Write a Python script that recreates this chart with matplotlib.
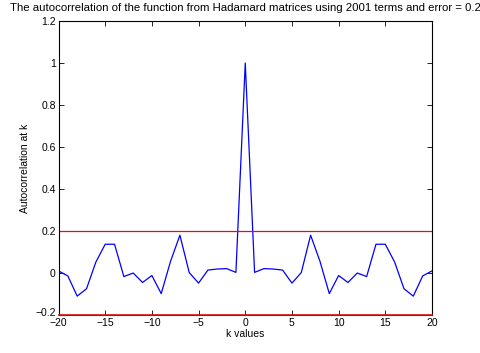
import numpy as np
import matplotlib
matplotlib.use('Agg')
import matplotlib.pyplot as plt
import matplotlib.transforms as mtransforms

plt.rcParams['font.family'] = ['Liberation Sans', 'DejaVu Sans']

# autocorrelation values, k = -20 .. 20
k_values = list(range(-20, 21))
autocorr = [0.01, -0.014, -0.11, -0.075, 0.052, 0.137, 0.137, -0.017, 0.0, -0.045,
            -0.012, -0.098, 0.056, 0.18, 0.002, -0.048, 0.014, 0.019, 0.021, 0.003,
            1.0,
            0.003, 0.021, 0.019, 0.014, -0.048, 0.002, 0.18, 0.056, -0.098, -0.012,
            -0.045, 0.0, -0.017, 0.137, 0.137, 0.052, -0.075, -0.11, -0.014, 0.01]
error = 0.2
x_ticks = [-20, -15, -10, -5, 0, 5, 10, 15, 20]
y_ticks = [-0.2, 0, 0.2, 0.4, 0.6, 0.8, 1, 1.2]

fig = plt.figure(figsize=(4.8, 3.53), dpi=100)
ax = fig.add_axes([0.1219, 0.1076, 0.7781, 0.8329])

ax.plot(k_values, autocorr, color='b', linewidth=0.9)
ax.axhline(error, color='#e01010', linewidth=0.9)
ax.axhline(-error, color='#e01010', linewidth=1.2, clip_on=False, zorder=5)

ax.set_xlim(-20, 20)
ax.set_ylim(-0.2, 1.2)
ax.set_xticks(x_ticks)
ax.set_yticks(y_ticks)
ax.set_xticklabels([str(t).replace('-', '\u2212') for t in x_ticks])
ax.set_yticklabels(['\u22120.2', '0', '0.2', '0.4', '0.6', '0.8', '1', '1.2'])
ax.tick_params(direction='in', length=3.5, width=0.6, labelsize=7.5,
               top=True, right=True, pad=2)
for s in ax.spines.values():
    s.set_linewidth(0.8)

# nudge the bottom y label up a little so it does not sit on the -20 label
lbl = ax.get_yticklabels()[0]
lbl.set_transform(lbl.get_transform() + mtransforms.ScaledTranslation(0, 2.5 / 72, fig.dpi_scale_trans))

ax.set_xlabel('k values', fontsize=7.5, labelpad=1)
ax.set_ylabel('Autocorrelation at k', fontsize=7.5, labelpad=4)
ax.set_title('The autocorrelation of the function from Hadamard matrices using 2001 terms and error = 0.2',
             fontsize=8.2, pad=7)

fig.savefig('out.png', dpi=100)
